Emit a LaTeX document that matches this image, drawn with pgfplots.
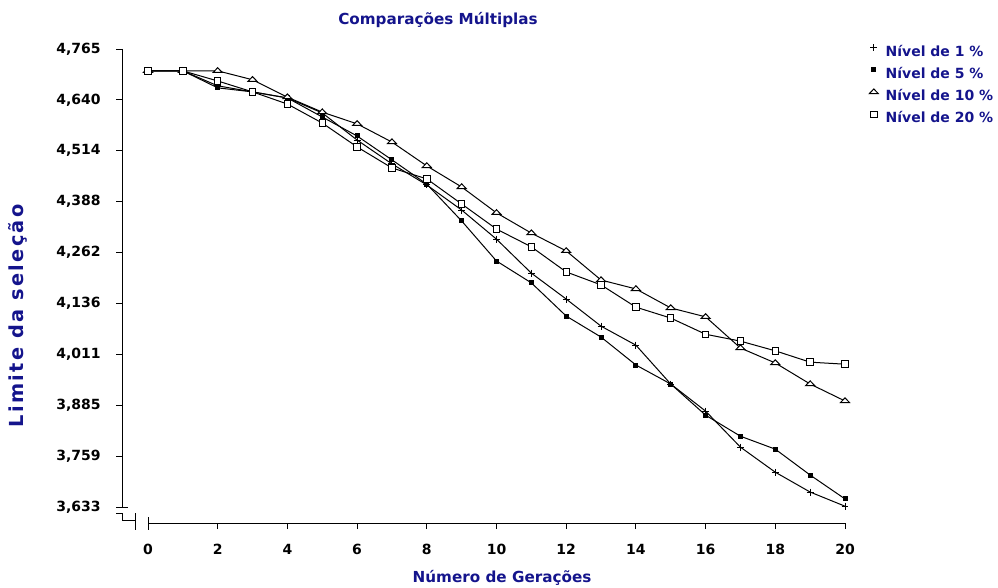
\documentclass[border=0pt]{standalone}
\usepackage{fontspec}
\setmainfont{DejaVu Sans}
\usepackage{pgfplots}
\pgfplotsset{compat=1.18}
\definecolor{navy}{RGB}{20,20,140}
\newcommand\tf{\bfseries\fontsize{10.5}{12}\selectfont}
\begin{document}
\begin{tikzpicture}
\useasboundingbox (0pt,0pt) rectangle (748.5pt,-441pt);
\begin{axis}[
  at={(91.5pt,-392.25pt)}, anchor=south west,
  scale only axis, width=542.25pt, height=355.5pt,
  xmin=-0.746, xmax=20, ymin=3.5935, ymax=4.765,
  axis lines=left, axis line style={draw=none},
  tick align=outside, major tick length=4.5pt,
  tick style={black, line width=0.75pt},
  xtick={0,2,4,6,8,10,12,14,16,18,20},
  xticklabels={0,2,4,6,8,10,12,14,16,18,20},
  ytick={3.633,3.75878,3.88456,4.01033,4.13611,4.26189,4.38767,4.51344,4.63922,4.765},
  yticklabels={{3,633},{3,759},{3,885},{4,011},{4,136},{4,262},{4,388},{4,514},{4,640},{4,765}},
  xticklabel style={font=\tf, yshift=-8pt},
  yticklabel style={font=\tf, xshift=-8pt},
  clip=false,
  every axis plot/.append style={black, line width=0.75pt},
  legend style={at={(1.0277,1.0147)}, anchor=north west, draw=none, fill=none,
    inner sep=0pt, font=\tf, text=navy, row sep=2.8pt},
  legend cell align=left,
  legend image code/.code={\path (0pt,-3pt) (12.5pt,3pt); \draw[#1] plot coordinates {(6pt,3pt)};},
]
\addplot[mark=+, mark size=2.6pt] coordinates {
(0,4.711)(1,4.711)(2,4.674)(3,4.659)(4,4.644)(5,4.607)(6,4.540)(7,4.481)(8,4.429)(9,4.367)(10,4.295)
(11,4.211)(12,4.147)(13,4.080)(14,4.033)(15,3.937)(16,3.870)(17,3.781)(18,3.719)(19,3.670)(20,3.635)};
\addlegendentry{Nível de 1 \%}
\addplot[mark=square*, mark size=1.5pt] coordinates {
(0,4.711)(1,4.711)(2,4.669)(3,4.659)(4,4.644)(5,4.597)(6,4.550)(7,4.491)(8,4.431)(9,4.340)(10,4.241)
(11,4.187)(12,4.105)(13,4.053)(14,3.984)(15,3.937)(16,3.860)(17,3.808)(18,3.776)(19,3.712)(20,3.653)};
\addlegendentry{Nível de 5 \%}
\addplot[mark=triangle*, mark size=3.4pt, mark options={fill=white, xscale=1.15, yscale=0.7}] coordinates {
(0,4.711)(1,4.711)(2,4.711)(3,4.689)(4,4.646)(5,4.609)(6,4.580)(7,4.535)(8,4.476)(9,4.424)(10,4.360)
(11,4.310)(12,4.266)(13,4.194)(14,4.172)(15,4.125)(16,4.103)(17,4.026)(18,3.989)(19,3.937)(20,3.895)};
\addlegendentry{Nível de 10 \%}
\addplot[mark=square*, mark size=2.4pt, mark options={fill=white}] coordinates {
(0,4.711)(1,4.711)(2,4.686)(3,4.659)(4,4.629)(5,4.582)(6,4.523)(7,4.471)(8,4.444)(9,4.382)(10,4.320)
(11,4.276)(12,4.214)(13,4.182)(14,4.127)(15,4.100)(16,4.060)(17,4.043)(18,4.019)(19,3.991)(20,3.986)};
\addlegendentry{Nível de 20 \%}
\end{axis}
\begin{scope}[x=0.75pt,y=-0.75pt, line width=0.75pt]
\draw (122,49) -- (122,507);
\draw (116,507) -- (128,507);
\draw (116,513) -- (122,513) -- (122,520) -- (135,520);
\draw (135,513) -- (135,530);
\draw (148,517) -- (148,530);
\draw (148,523) -- (845,523);
\node[navy, font=\bfseries\fontsize{11.4}{13}\selectfont] at (438,20) {Comparações Múltiplas};
\node[navy, font=\bfseries\fontsize{11.4}{13}\selectfont] at (502,578) {Número de Gerações};
\node[navy, font=\bfseries\fontsize{14.5}{16}\selectfont\addfontfeature{LetterSpace=12}, rotate=90] at (18,316) {Limite da seleção};
\end{scope}
\end{tikzpicture}
\end{document}
